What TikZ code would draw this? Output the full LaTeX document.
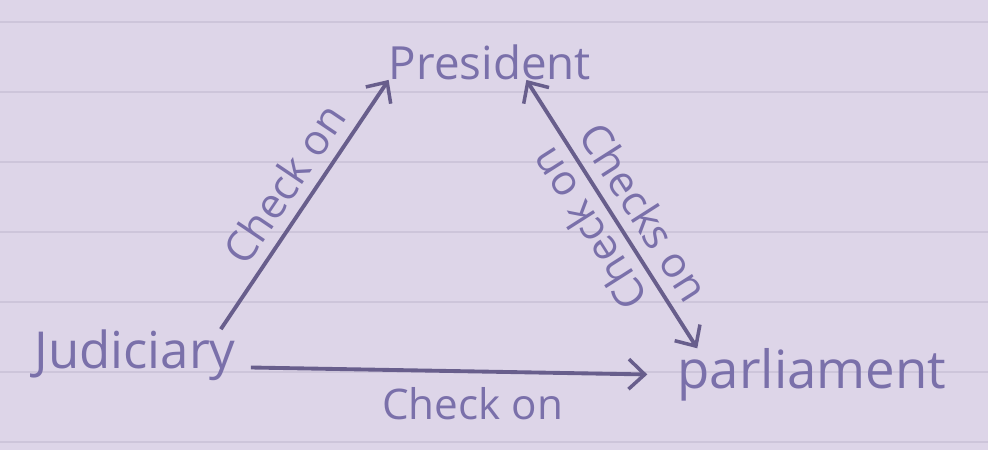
\documentclass[tikz,border=0pt]{standalone}
\usepackage{fontspec}
\setmainfont{Open Sans}
\usepackage{tikz}
\usetikzlibrary{arrows.meta,calc,positioning}
\definecolor{paper}{RGB}{221,213,232}
\definecolor{rule}{RGB}{205,197,218}
\definecolor{ink}{RGB}{104,94,140}
\definecolor{pen}{RGB}{122,112,170}
\tikzset{
  branch/.style={inner sep=0pt,text=pen,font=\fontsize{26}{30}\selectfont},
  elab/.style={inner sep=6pt,text=pen,font=\fontsize{24}{28}\selectfont},
  barb/.tip={Straight Barb[length=3.2mm,width=6mm,line width=2pt]},
  arr/.style={-barb,line width=2.2pt,draw=ink}
}
\begin{document}
\begin{tikzpicture}
  \fill[paper] (0,0) rectangle (19.76,9);
  \useasboundingbox (0,0) rectangle (19.76,9);
  % ruled lines of the page
  \foreach \y in {0.16,1.56,2.96,4.36,5.76,7.16,8.56}
    \draw[rule,line width=0.8pt] (0,\y) -- (19.76,\y);
  \node[branch] (pres) at (9.8,7.76) {President};
  \node[branch,font=\fontsize{29}{33}\selectfont] (jud) at (2.7,1.9) {Judiciary};
  \node[branch,font=\fontsize{30}{34}\selectfont] (parl) at (16.24,1.5) {parliament};
  % judiciary checks the other two
  \draw[arr] ([xshift=-0.3cm]jud.north east) -- (pres.south west)
    node[elab,pos=0.52,sloped,above] {Check on};
  \draw[arr,shorten >=0.6cm] ([xshift=0.3cm,yshift=-0.25cm]jud.east) -- (parl.west)
    node[elab,pos=0.52,below=2pt] {Check on};
  % president and parliament check each other
  \draw[arr,barb-barb]
    ([xshift=-1.3cm]pres.south east) -- ([xshift=0.4cm]parl.north west)
    node[elab,pos=0.55,sloped,above] {Checks on}
    node[elab,pos=0.5,sloped,above,rotate=180] {Check on};
\end{tikzpicture}
\end{document}
